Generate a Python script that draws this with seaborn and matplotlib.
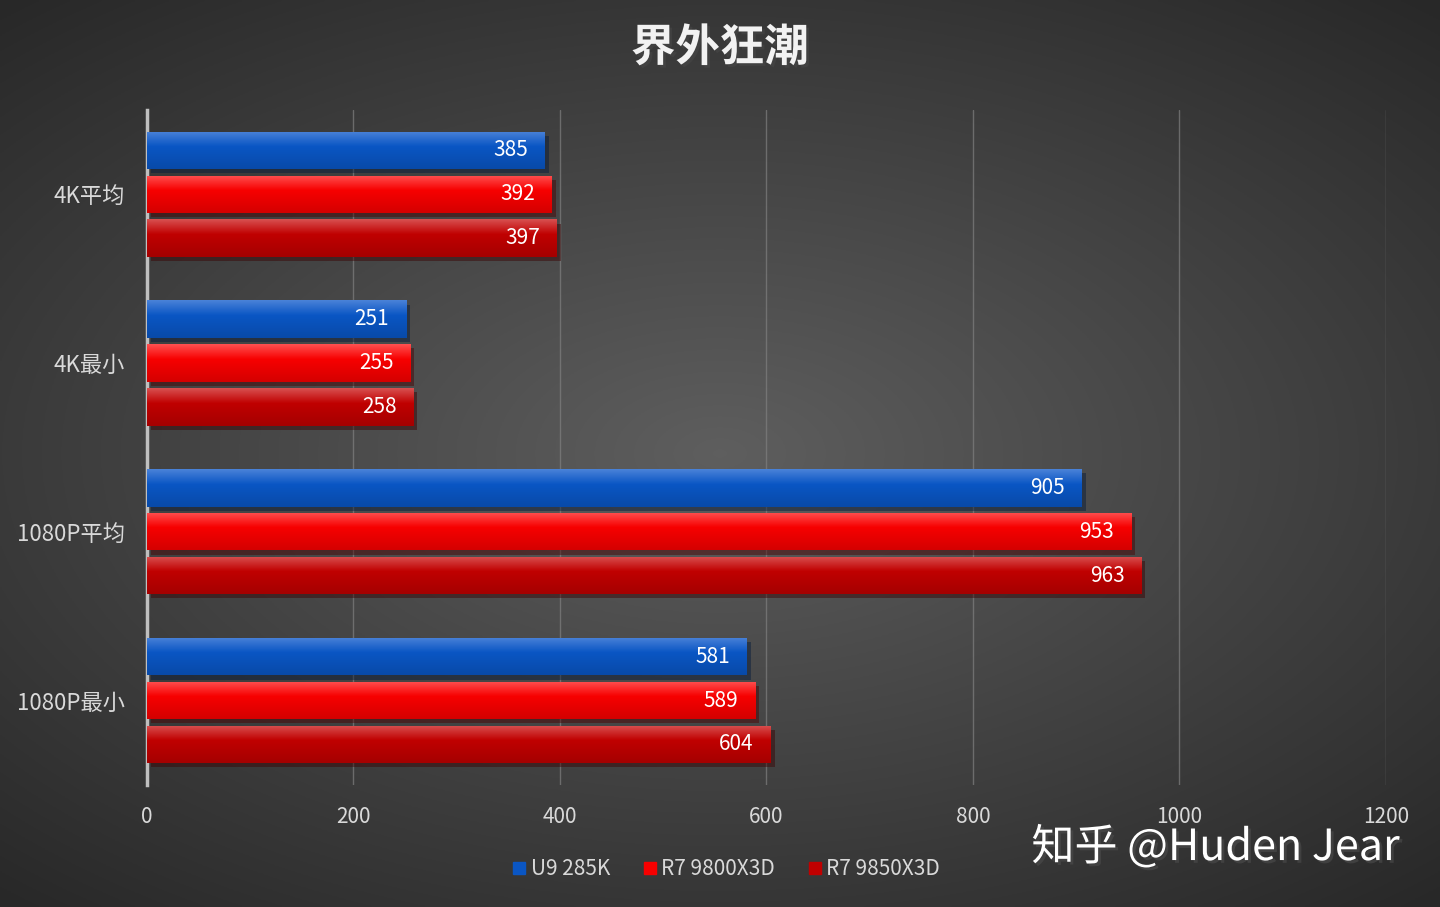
import numpy as np
import pandas as pd
import matplotlib
matplotlib.use("Agg")
import matplotlib.pyplot as plt
import matplotlib.patheffects as pe
from matplotlib.colors import to_rgb
import seaborn as sns

categories = ["4K平均", "4K最小", "1080P平均", "1080P最小"]
series = ["U9 285K", "R7 9800X3D", "R7 9850X3D"]
u9_285k = [385, 251, 905, 581]
r7_9800x3d = [392, 255, 953, 589]
r7_9850x3d = [397, 258, 963, 604]
x_ticks = [0, 200, 400, 600, 800, 1000, 1200]

colors = {"U9 285K": "#0a56c4", "R7 9800X3D": "#f70000", "R7 9850X3D": "#c00000"}
tops = {"U9 285K": "#4a82d8", "R7 9800X3D": "#ff5050", "R7 9850X3D": "#d85050"}

df = pd.DataFrame({
    "category": categories * 3,
    "series": [s for s in series for _ in categories],
    "value": u9_285k + r7_9800x3d + r7_9850x3d,
})

sns.set_theme(style="dark")
plt.rcParams["font.family"] = ["Noto Sans CJK SC", "DejaVu Sans"]

fig = plt.figure(figsize=(14.4, 9.07), dpi=100)

# radial gradient background
bg = fig.add_axes([0, 0, 1, 1], zorder=-10)
yy, xx = np.mgrid[-1:1:400j, -1:1:640j]
r = np.sqrt((xx * 0.85) ** 2 + (yy * 0.95) ** 2)
r = np.clip(r / 1.25, 0, 1)
c_in, c_out = np.array([0.37, 0.37, 0.37]), np.array([0.16, 0.16, 0.16])
img = c_in[None, None, :] * (1 - r[..., None]) + c_out[None, None, :] * r[..., None]
bg.imshow(img, aspect="auto", extent=[0, 1, 0, 1])
bg.axis("off")

ax = fig.add_axes([0.102, 0.1345, 0.8605, 0.7445])
ax.patch.set_alpha(0)

sns.barplot(data=df, y="category", x="value", hue="series", order=categories,
            hue_order=series, palette=colors, orient="h", width=0.78, gap=0.15,
            saturation=1, linewidth=0, edgecolor="none", ax=ax, legend=False, zorder=3)

ax.set_xlim(0, 1200)
ax.set_ylim(3.5, -0.5)

# gradient fill + shadow on bars
for name, cont in zip(series, ax.containers):
    top = np.array(to_rgb(tops[name]))
    mid = np.array(to_rgb(colors[name]))
    bot = mid * 0.86
    t = np.linspace(0, 1, 64)[:, None]
    grad = np.where(t < 0.4, top * (1 - t / 0.4) + mid * (t / 0.4),
                    mid * (1 - (t - 0.4) / 0.6) + bot * ((t - 0.4) / 0.6))
    grad = np.repeat(grad[:, None, :], 2, axis=1)
    for patch in cont.patches:
        x0, y0 = patch.get_x(), patch.get_y()
        w, h = patch.get_width(), patch.get_height()
        patch.set_path_effects([pe.SimplePatchShadow(offset=(3, -3), alpha=0.45), pe.Normal()])
        im = ax.imshow(grad, extent=[x0, x0 + w, y0 + h, y0], aspect="auto", zorder=4)
        im.set_clip_path(patch)
    ax.bar_label(cont, padding=-37, color="white", fontsize=15, zorder=6)

ax.set_xlim(0, 1200)
ax.set_ylim(3.5, -0.5)

ax.set_xticks(x_ticks)
ax.grid(axis="x", color="#808080", linewidth=1, alpha=0.7, zorder=0)
ax.grid(axis="y", visible=False)
for s in ["top", "right", "bottom"]:
    ax.spines[s].set_visible(False)
ax.spines["left"].set_color("#bfbfbf")
ax.spines["left"].set_linewidth(2.5)
ax.tick_params(axis="x", colors="#d9d9d9", labelsize=15, length=0, pad=15)
ax.tick_params(axis="y", colors="#d9d9d9", labelsize=16, length=0, pad=16)
ax.set_xlabel("")
ax.set_ylabel("")

fig.text(0.5, 0.947, "界外狂潮", ha="center", va="center", color="#f2f2f2",
         fontsize=32, fontweight="bold",
         path_effects=[pe.withSimplePatchShadow(offset=(2, -2), alpha=0.5)])

# legend
handles = [plt.Line2D([], [], marker="s", linestyle="", markersize=9,
                      markerfacecolor=colors[s], markeredgecolor=colors[s]) for s in series]
leg = fig.legend(handles, series, loc="center", bbox_to_anchor=(0.503, 0.042), ncol=3,
                 frameon=False, fontsize=15, handletextpad=0.05, columnspacing=1.4,
                 handlelength=1.0)
for t in leg.get_texts():
    t.set_color("#d9d9d9")

fig.text(0.972, 0.065, "知乎 @Huden Jear", ha="right", va="center", color="white",
         fontsize=31, path_effects=[pe.withSimplePatchShadow(offset=(2, -2), alpha=0.6)])

fig.savefig("out.png", dpi=100)
